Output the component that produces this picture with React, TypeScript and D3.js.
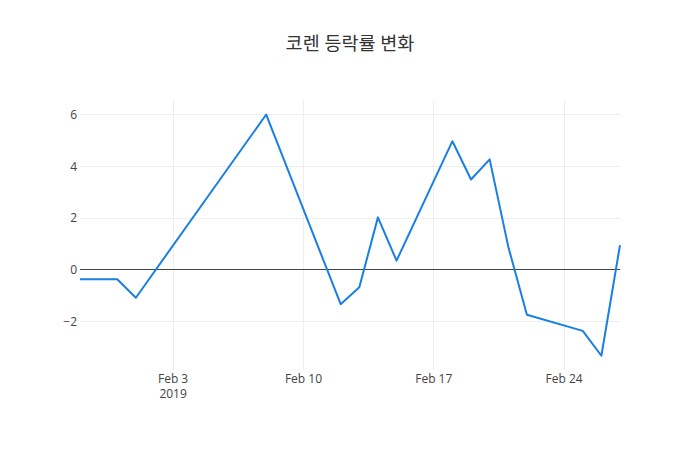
import React, { useEffect, useRef } from "react";
import * as d3 from "d3";

// 코렌 daily change (%)
const dates = [
  "2019-01-29", "2019-01-31", "2019-02-01", "2019-02-08", "2019-02-12",
  "2019-02-13", "2019-02-14", "2019-02-15", "2019-02-18", "2019-02-19",
  "2019-02-20", "2019-02-21", "2019-02-22", "2019-02-25", "2019-02-26",
  "2019-02-27",
];
const changes = [
  -0.36, -0.36, -1.07, 6.0, -1.32,
  -0.67, 2.03, 0.36, 4.97, 3.49,
  4.27, 0.9, -1.73, -2.35, -3.31,
  0.96,
];
const xTicks = ["2019-02-03", "2019-02-10", "2019-02-17", "2019-02-24"];
const yTicks = [-2, 0, 2, 4, 6];
const title = "코렌 등락률 변화";

const App = () => {
  const svgRef: any = useRef();

  useEffect(() => {
    const svg = d3.select(svgRef.current);
    svg.selectAll("*").remove();
    const width = 700;
    const height = 450;
    const margin = { top: 100, right: 80, bottom: 80, left: 80 };
    const font = "'Open Sans', 'Noto Sans CJK KR', sans-serif";
    const parse = d3.timeParse("%Y-%m-%d");
    const data = dates.map((d, i) => ({ date: parse(d) as Date, value: changes[i] }));

    const x = d3
      .scaleTime()
      .domain(d3.extent(data, (d) => d.date) as [Date, Date])
      .range([margin.left, width - margin.right]);
    const y = d3
      .scaleLinear()
      .domain([-3.86, 6.56])
      .range([height - margin.bottom, margin.top]);

    svg.attr("width", width).attr("height", height).style("font-family", font);
    svg.append("rect").attr("width", width).attr("height", height).attr("fill", "#fff");

    // grid
    svg
      .selectAll(".xgrid")
      .data(xTicks.map((t) => parse(t) as Date))
      .join("line")
      .attr("x1", (d) => x(d))
      .attr("x2", (d) => x(d))
      .attr("y1", margin.top)
      .attr("y2", height - margin.bottom)
      .attr("stroke", "#eee")
      .attr("shape-rendering", "crispEdges");
    svg
      .selectAll(".ygrid")
      .data(yTicks.filter((t) => t !== 0))
      .join("line")
      .attr("x1", margin.left)
      .attr("x2", width - margin.right)
      .attr("y1", (d) => y(d))
      .attr("y2", (d) => y(d))
      .attr("stroke", "#eee")
      .attr("shape-rendering", "crispEdges");

    // zero line
    svg
      .append("line")
      .attr("x1", margin.left)
      .attr("x2", width - margin.right)
      .attr("y1", y(0))
      .attr("y2", y(0))
      .attr("stroke", "#444")
      .attr("stroke-width", 1)
      .attr("shape-rendering", "crispEdges");

    // tick labels
    svg
      .selectAll(".ylab")
      .data(yTicks)
      .join("text")
      .attr("x", margin.left - 3)
      .attr("y", (d) => y(d))
      .attr("dy", "0.35em")
      .attr("text-anchor", "end")
      .attr("font-size", 12)
      .attr("fill", "#444")
      .text((d) => (d < 0 ? "\u2212" + Math.abs(d) : String(d)));

    const fmt = d3.timeFormat("%b %-d");
    xTicks.forEach((t, i) => {
      const d = parse(t) as Date;
      const txt = svg
        .append("text")
        .attr("x", x(d))
        .attr("y", height - margin.bottom + 4)
        .attr("text-anchor", "middle")
        .attr("font-size", 12)
        .attr("fill", "#444");
      txt.append("tspan").attr("x", x(d)).attr("dy", "0.71em").text(fmt(d));
      if (i === 0) txt.append("tspan").attr("x", x(d)).attr("dy", "1.3em").text("2019");
    });

    // line
    const line = d3
      .line<any>()
      .x((d) => x(d.date))
      .y((d) => y(d.value));
    svg
      .append("path")
      .datum(data)
      .attr("d", line)
      .attr("fill", "none")
      .attr("stroke", "#1a7fe4")
      .attr("stroke-width", 2)
      .attr("stroke-linejoin", "round");

    // title
    svg
      .append("text")
      .attr("x", width / 2)
      .attr("y", 50)
      .attr("text-anchor", "middle")
      .attr("font-size", 18.5)
      .attr("fill", "#333")
      .text(title);
  }, []);

  return <svg ref={svgRef} style={{ display: "block", margin: -8 }}></svg>;
};

export default App;
